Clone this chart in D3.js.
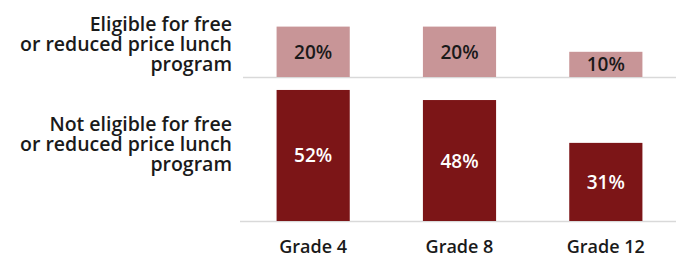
<!DOCTYPE html>
<html>
<head>
<meta charset="utf-8">
<script src="https://cdn.jsdelivr.net/npm/d3@7"></script>
<style>
  body { margin: 0; background: #fff; }
  text { font-family: "Open Sans", sans-serif; font-weight: 600; }
</style>
</head>
<body>
<svg id="chart" width="676" height="255"></svg>
<script>
var grades = ['Grade 4', 'Grade 8', 'Grade 12'];
var eligible = [20, 20, 10];
var notEligible = [52, 48, 31];
var panelLabels = [
  ['Eligible for free', 'or reduced price lunch', 'program'],
  ['Not eligible for free', 'or reduced price lunch', 'program']
];

var svg = d3.select('#chart');
var width = 676;

var x = d3.scaleBand().domain(grades).range([240, 679])
  .paddingInner(0.5).paddingOuter(0.25);
// same px-per-percent in both panels
var h = d3.scaleLinear().domain([0, 100]).range([0, 252]);

var panels = [
  { values: eligible, base: 77, fill: '#c89597', text: '#1a1a1a', lineX: 243, labelY: 31, label: panelLabels[0] },
  { values: notEligible, base: 221, fill: '#7c1517', text: '#ffffff', lineX: 240, labelY: 131, label: panelLabels[1] }
];

panels.forEach(function(p) {
  var g = svg.append('g');

  g.append('line')
    .attr('x1', p.lineX).attr('x2', width)
    .attr('y1', p.base + 0.5).attr('y2', p.base + 0.5)
    .attr('stroke', '#d9d9d9').attr('stroke-width', 1.5);

  var rows = grades.map(function(k, i) { return { grade: k, value: p.values[i] }; });

  g.selectAll('.bar').data(rows).enter().append('rect').classed('bar', true)
    .attr('x', d => x(d.grade))
    .attr('y', d => p.base - h(d.value))
    .attr('width', x.bandwidth())
    .attr('height', d => h(d.value))
    .attr('fill', p.fill);

  g.selectAll('.val').data(rows).enter().append('text').classed('val', true)
    .attr('x', d => x(d.grade) + x.bandwidth() / 2)
    .attr('y', d => p.base - h(d.value) / 2 + 7)
    .attr('text-anchor', 'middle')
    .attr('font-size', 19)
    .attr('fill', p.text)
    .text(d => d.value + '%');

  g.append('text')
    .attr('text-anchor', 'end')
    .attr('font-size', 19.5)
    .attr('fill', '#1a1a1a')
    .selectAll('tspan').data(p.label).enter().append('tspan')
    .attr('x', 232)
    .attr('y', (d, i) => p.labelY + i * 20)
    .text(d => d);
});

var xAxis = d3.axisBottom(x).tickSize(0).tickPadding(0);
var ax = svg.append('g').attr('transform', 'translate(0,237)').call(xAxis);
ax.select('.domain').remove();
ax.selectAll('text')
  .attr('font-size', 18)
  .attr('font-family', '"Open Sans", sans-serif')
  .attr('font-weight', 600)
  .attr('fill', '#1a1a1a')
  .attr('dy', '0.9em');
</script>
</body>
</html>
